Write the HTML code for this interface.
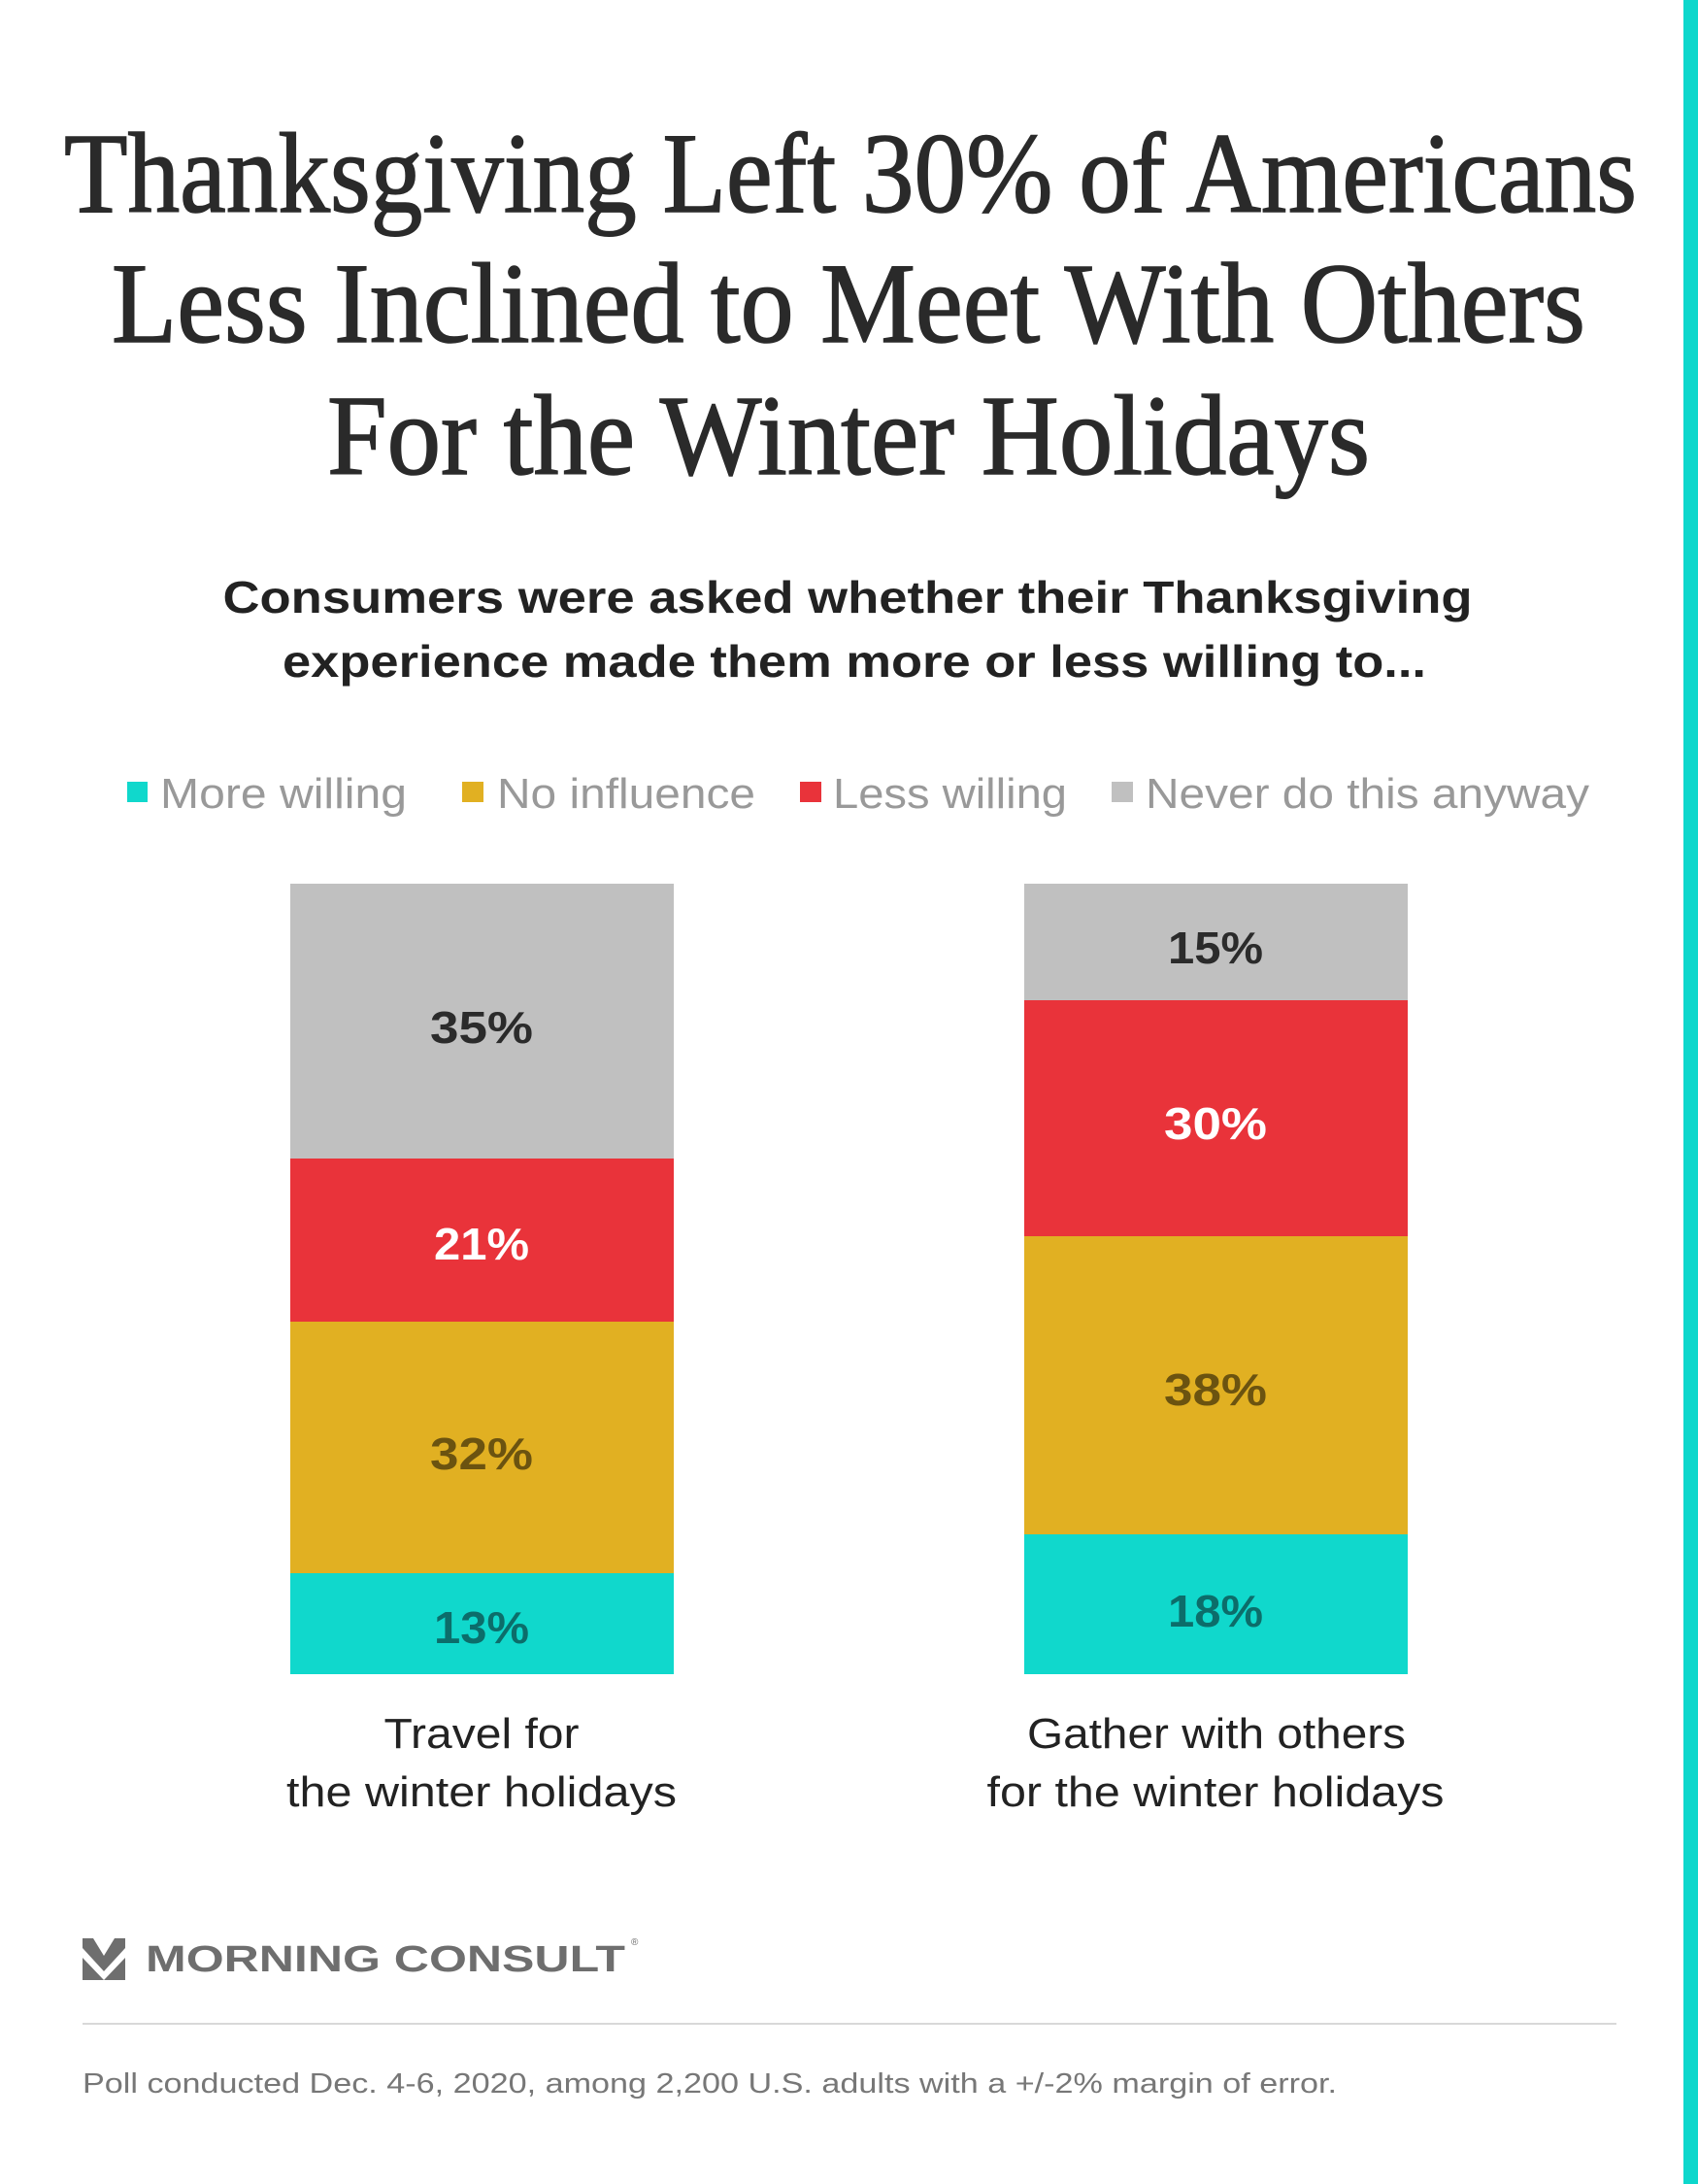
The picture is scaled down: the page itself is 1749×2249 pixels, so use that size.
<!DOCTYPE html>
<html><head><meta charset="utf-8"><style>html,body{margin:0;padding:0;background:#fff}svg{display:block}</style></head>
<body>
<svg width="1749" height="2249" viewBox="0 0 1749 2249" xmlns="http://www.w3.org/2000/svg">
<rect x="0" y="0" width="1749" height="2249" fill="#fff"/>
<rect x="1734" y="0" width="15" height="2249" fill="#0dd7cc"/>
<g font-family="Liberation Serif, serif" fill="#2a2a2a" stroke="#2a2a2a" stroke-width="1.5" font-size="118" text-anchor="middle">
<text x="876" y="218" textLength="1620" lengthAdjust="spacingAndGlyphs">Thanksgiving Left 30% of Americans</text>
<text x="874" y="352" textLength="1518" lengthAdjust="spacingAndGlyphs">Less Inclined to Meet With Others</text>
<text x="874" y="488" textLength="1074" lengthAdjust="spacingAndGlyphs">For the Winter Holidays</text>
</g>
<g font-family="Liberation Sans, sans-serif" font-weight="bold" fill="#222" font-size="46" text-anchor="middle">
<text x="873" y="631" textLength="1287" lengthAdjust="spacingAndGlyphs">Consumers were asked whether their Thanksgiving</text>
<text x="880" y="697" textLength="1178" lengthAdjust="spacingAndGlyphs">experience made them more or less willing to...</text>
</g>
<g font-family="Liberation Sans, sans-serif" fill="#999" font-size="44">
<rect x="131" y="805" width="21" height="21" fill="#10d8cc"/>
<text x="165" y="832" textLength="254" lengthAdjust="spacingAndGlyphs">More willing</text>
<rect x="476" y="805" width="22" height="21" fill="#e1b022"/>
<text x="512" y="832" textLength="266" lengthAdjust="spacingAndGlyphs">No influence</text>
<rect x="824" y="805" width="22" height="21" fill="#e9333a"/>
<text x="858" y="832" textLength="241" lengthAdjust="spacingAndGlyphs">Less willing</text>
<rect x="1145" y="805" width="22" height="21" fill="#c0c0c0"/>
<text x="1180" y="832" textLength="457" lengthAdjust="spacingAndGlyphs">Never do this anyway</text>
</g>
<rect x="299" y="910" width="395" height="283" fill="#c0c0c0"/>
<rect x="299" y="1193" width="395" height="168" fill="#e9333a"/>
<rect x="299" y="1361" width="395" height="259" fill="#e1b022"/>
<rect x="299" y="1620" width="395" height="104" fill="#10d8cc"/>
<rect x="1055" y="910" width="395" height="120" fill="#c0c0c0"/>
<rect x="1055" y="1030" width="395" height="243" fill="#e9333a"/>
<rect x="1055" y="1273" width="395" height="307" fill="#e1b022"/>
<rect x="1055" y="1580" width="395" height="144" fill="#10d8cc"/>
<g font-family="Liberation Sans, sans-serif" font-weight="bold" font-size="46" text-anchor="middle">
<text x="496" y="1074" fill="#2b2b2b" textLength="106" lengthAdjust="spacingAndGlyphs">35%</text>
<text x="496" y="1297" fill="#fff" textLength="98" lengthAdjust="spacingAndGlyphs">21%</text>
<text x="496" y="1513" fill="#6b5310" textLength="106" lengthAdjust="spacingAndGlyphs">32%</text>
<text x="496" y="1692" fill="#0c6d6a" textLength="98" lengthAdjust="spacingAndGlyphs">13%</text>
<text x="1252" y="992" fill="#2b2b2b" textLength="98" lengthAdjust="spacingAndGlyphs">15%</text>
<text x="1252" y="1173" fill="#fff" textLength="106" lengthAdjust="spacingAndGlyphs">30%</text>
<text x="1252" y="1447" fill="#6b5310" textLength="106" lengthAdjust="spacingAndGlyphs">38%</text>
<text x="1252" y="1675" fill="#0c6d6a" textLength="98" lengthAdjust="spacingAndGlyphs">18%</text>
</g>
<g font-family="Liberation Sans, sans-serif" fill="#222" font-size="44" text-anchor="middle">
<text x="496" y="1800" textLength="201" lengthAdjust="spacingAndGlyphs">Travel for</text>
<text x="496" y="1860" textLength="402" lengthAdjust="spacingAndGlyphs">the winter holidays</text>
<text x="1253" y="1800" textLength="390" lengthAdjust="spacingAndGlyphs">Gather with others</text>
<text x="1252" y="1860" textLength="471" lengthAdjust="spacingAndGlyphs">for the winter holidays</text>
</g>
<g fill="#6e6e6e">
<polygon points="85,1996 96,1996 107,2014 118,1996 129,1996 129,2006 107,2030 85,2006"/>
<polygon points="85,2016 107,2039 85,2039"/>
<polygon points="129,2016 129,2039 107,2039"/>
<text x="150" y="2030" font-family="Liberation Sans, sans-serif" font-weight="bold" font-size="38" textLength="494" lengthAdjust="spacingAndGlyphs">MORNING CONSULT</text>
<text x="650" y="2003" font-family="Liberation Sans, sans-serif" font-size="10">®</text>
</g>
<rect x="85" y="2083" width="1580" height="2" fill="#d8d8d8"/>
<text x="85" y="2155" font-family="Liberation Sans, sans-serif" font-size="29" fill="#777" textLength="1292" lengthAdjust="spacingAndGlyphs">Poll conducted Dec. 4-6, 2020, among 2,200 U.S. adults with a +/-2% margin of error.</text>
</svg>
</body></html>
